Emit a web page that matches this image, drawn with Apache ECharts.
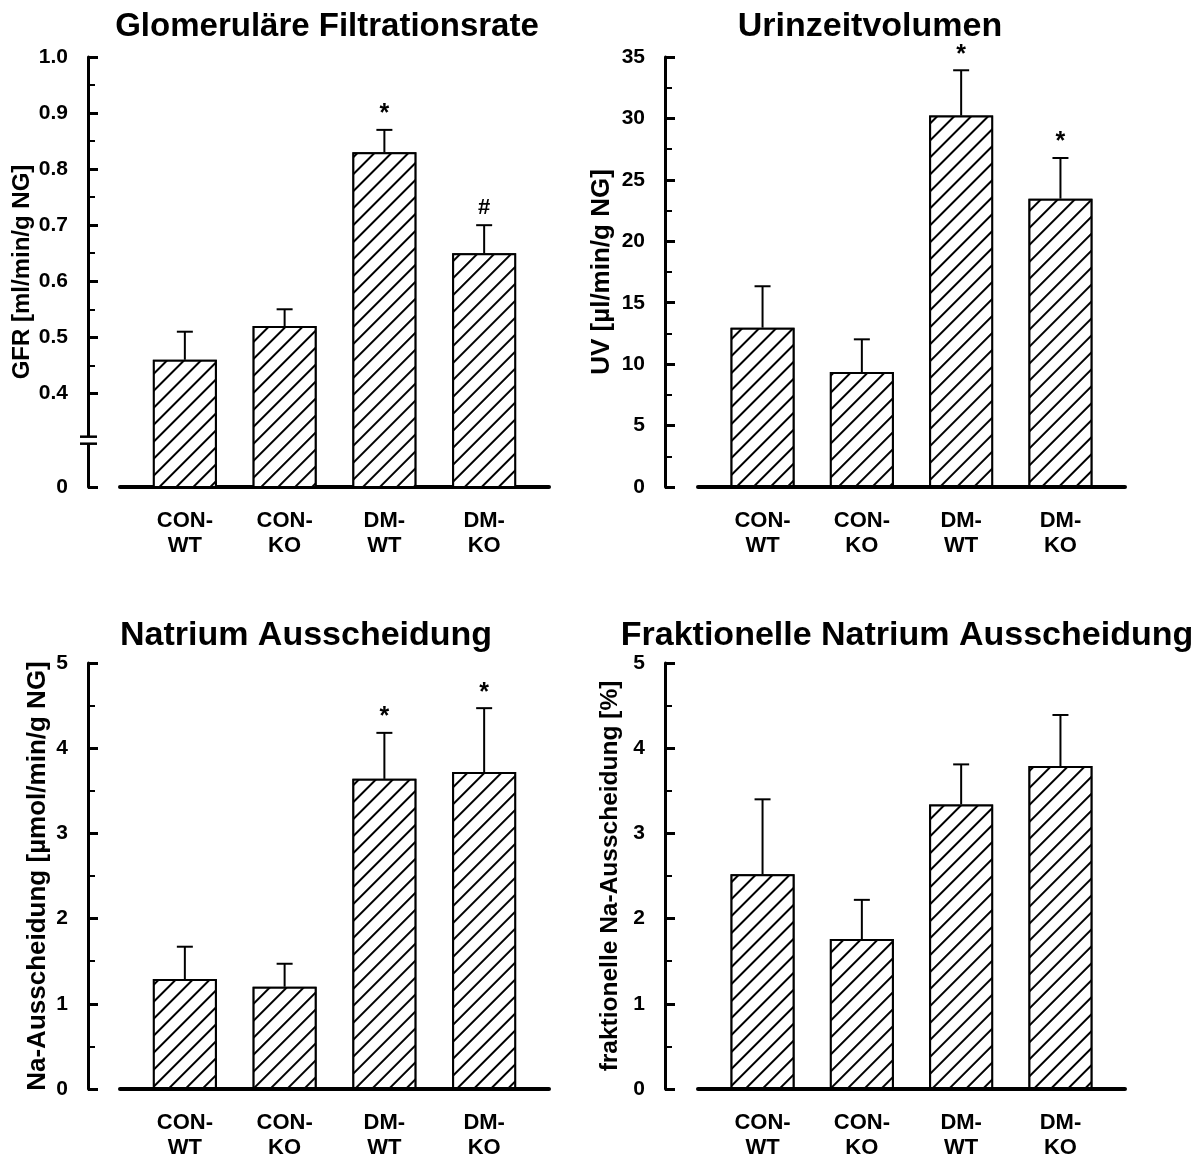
<!DOCTYPE html>
<html><head><meta charset="utf-8">
<script src="https://cdn.jsdelivr.net/npm/echarts@6/dist/echarts.min.js"></script>
<style>html,body{margin:0;padding:0;background:#fff}#c{width:1203px;height:1160px}</style>
</head><body><div id="c"></div>
<script>
// ---------- data ----------
const categories = ['CON-\nWT', 'CON-\nKO', 'DM-\nWT', 'DM-\nKO'];

const gfrTitle = 'Glomeruläre Filtrationsrate';
const gfrName = 'GFR [ml/min/g NG]';
const gfrMean = [0.46, 0.52, 0.83, 0.65];
const gfrErrTop = [0.51, 0.55, 0.87, 0.70];
const gfrMarks = ['', '', '*', '#'];
const gfrTicks = [0.4, 0.5, 0.6, 0.7, 0.8, 0.9, 1.0];
const gfrMinorTicks = [0.45, 0.55, 0.65, 0.75, 0.85, 0.95];
const gfrAxisBottom = 0.233;   // broken axis: bottom of axis is labelled "0"

const uvTitle = 'Urinzeitvolumen';
const uvName = 'UV [µl/min/g NG]';
const uvMean = [12.97, 9.36, 30.23, 23.47];
const uvErrTop = [16.34, 12.02, 33.92, 26.78];
const uvMarks = ['', '', '*', '*'];
const uvMax = 35, uvStep = 5;

const naTitle = 'Natrium Ausscheidung';
const naName = 'Na-Ausscheidung [µmol/min/g NG]';
const naMean = [1.29, 1.20, 3.64, 3.72];
const naErrTop = [1.67, 1.47, 4.18, 4.47];
const naMarks = ['', '', '*', '*'];
const naMax = 5, naStep = 1;

const fnaTitle = 'Fraktionelle Natrium Ausscheidung';
const fnaName = 'fraktionelle Na-Ausscheidung [%]';
const fnaMean = [2.52, 1.76, 3.34, 3.79];
const fnaErrTop = [3.40, 2.22, 3.81, 4.39];
const fnaMarks = ['', '', '', ''];
const fnaMax = 5, fnaStep = 1;

// ---------- layout / style ----------
const FONT = "'Liberation Sans', Arial, Helvetica, sans-serif";
const panels = [
  {title: gfrTitle, name: gfrName, mean: gfrMean, err: gfrErrTop, marks: gfrMarks,
   left: 120, top: 57, width: 429, height: 430, offset: 32, nameGap: 54, nameSize: 24,
   titleX: 327, titleY: 27, titleSize: 33},
  {title: uvTitle, name: uvName, mean: uvMean, err: uvErrTop, marks: uvMarks, max: uvMax, step: uvStep,
   left: 698, top: 57, width: 427, height: 430, offset: 33, nameGap: 50, nameSize: 26,
   titleX: 870, titleY: 27, titleSize: 34},
  {title: naTitle, name: naName, mean: naMean, err: naErrTop, marks: naMarks, max: naMax, step: naStep,
   left: 120, top: 663, width: 429, height: 429, offset: 32, nameGap: 37, nameSize: 26,
   titleX: 306, titleY: 636, titleSize: 34},
  {title: fnaTitle, name: fnaName, mean: fnaMean, err: fnaErrTop, marks: fnaMarks, max: fnaMax, step: fnaStep,
   left: 698, top: 663, width: 427, height: 429, offset: 33, nameGap: 42, nameSize: 24.5,
   titleX: 907, titleY: 636, titleSize: 34}
];

const hatch = {
  symbol: 'rect', symbolSize: 1,
  dashArrayX: [1, 0], dashArrayY: [1.2, 9.8],
  rotation: -Math.PI / 4,
  color: '#000', backgroundColor: '#fff'
};

const option = {
  backgroundColor: '#fff',
  animation: false,
  title: [], grid: [], xAxis: [], yAxis: [], series: []
};

panels.forEach((p, i) => {
  option.title.push({
    text: p.title, left: p.titleX, top: p.titleY,
    textAlign: 'center', textVerticalAlign: 'middle', padding: 0,
    textStyle: {fontFamily: FONT, fontWeight: 'bold', fontSize: p.titleSize, color: '#000'}
  });
  option.grid.push({left: p.left, top: p.top, width: p.width, height: p.height, containLabel: false});
  option.xAxis.push({
    type: 'value', gridIndex: i, min: -0.65, max: 3.65,
    splitLine: {show: false},
    axisLine: {show: true, onZero: false, lineStyle: {color: '#000', width: 4}},
    axisTick: {show: false},
    axisLabel: {
      customValues: [0, 1, 2, 3],
      formatter: v => categories[Math.round(v)],
      fontFamily: FONT, fontWeight: 'bold', fontSize: 22, lineHeight: 25,
      color: '#000', margin: 21
    }
  });
  const yBase = {
    type: 'value', gridIndex: i, position: 'left', offset: p.offset,
    splitLine: {show: false},
    name: p.name, nameLocation: 'middle', nameRotate: 90, nameGap: p.nameGap,
    nameTextStyle: {fontFamily: FONT, fontWeight: 'bold', fontSize: p.nameSize, color: '#000'},
    axisLine: {show: true, onZero: false, lineStyle: {color: '#000', width: 3}},
    axisTick: {show: true, inside: true, length: 10, lineStyle: {color: '#000', width: 3}},
    axisLabel: {fontFamily: FONT, fontWeight: 'bold', fontSize: 21, color: '#000', margin: 20}
  };
  let yIdx = option.yAxis.length;
  if (i === 0) {
    const allLabels = [gfrAxisBottom].concat(gfrTicks);
    yBase.min = gfrAxisBottom; yBase.max = 1.0;
    yBase.axisTick.customValues = allLabels;
    yBase.axisLabel.customValues = allLabels;
    yBase.axisLabel.formatter = v => (v < 0.3 ? '0' : v.toFixed(1));
    option.yAxis.push(yBase);
    option.yAxis.push({
      type: 'value', gridIndex: i, position: 'left', offset: p.offset,
      min: gfrAxisBottom, max: 1.0,
      splitLine: {show: false}, axisLine: {show: false, onZero: false}, axisLabel: {show: false},
      axisTick: {show: true, inside: true, length: 7, customValues: gfrMinorTicks,
                 lineStyle: {color: '#000', width: 2}}
    });
  } else {
    yBase.min = 0; yBase.max = p.max; yBase.interval = p.step;
    yBase.minorTick = {show: true, splitNumber: 2, length: 7, lineStyle: {color: '#000', width: 2}};
    option.yAxis.push(yBase);
  }
  option.series.push({
    type: 'bar', xAxisIndex: i, yAxisIndex: yIdx,
    barWidth: 64,
    data: p.mean.map((v, k) => [k, v]),
    itemStyle: {color: '#fff', borderColor: '#000', borderWidth: 2, decal: hatch},
    z: 2
  });
  const marks = p.marks;
  option.series.push({
    type: 'custom', xAxisIndex: i, yAxisIndex: yIdx, z: 3,
    data: p.mean.map((v, k) => [k, v, p.err[k]]),
    renderItem: (params, api) => {
      const x = api.value(0);
      const p0 = api.coord([x, api.value(1)]);
      const p1 = api.coord([x, api.value(2)]);
      const ch = [
        {type: 'line', shape: {x1: p0[0], y1: p0[1], x2: p1[0], y2: p1[1]}, style: {stroke: '#000', lineWidth: 2}},
        {type: 'line', shape: {x1: p1[0] - 8, y1: p1[1], x2: p1[0] + 8, y2: p1[1]}, style: {stroke: '#000', lineWidth: 2}}
      ];
      const m = marks[params.dataIndex];
      if (m) ch.push({type: 'text', style: {text: m, x: p1[0], y: p1[1] - (m === '*' ? 3 : 6), align: 'center',
        verticalAlign: 'bottom', font: 'bold ' + (m === '*' ? 25 : 22) + 'px ' + FONT, fill: '#000'}});
      return {type: 'group', children: ch};
    }
  });
});

const chart = echarts.init(document.getElementById('c'), null, {renderer: 'canvas'});
chart.setOption(option);

// axis-break marks on the GFR y axis (midway between "0" and 0.4)
const yb = chart.convertToPixel({yAxisIndex: 0}, gfrAxisBottom);
const y4 = chart.convertToPixel({yAxisIndex: 0}, gfrTicks[0]);
const ym = (yb + y4) / 2;
const ax = panels[0].left - panels[0].offset;
chart.setOption({
  graphic: [
    {type: 'rect', shape: {x: ax - 4, y: ym - 3.5, width: 8, height: 7}, style: {fill: '#fff'}, z: 100},
    {type: 'line', shape: {x1: ax - 8, y1: ym - 3.5, x2: ax + 9, y2: ym - 3.5}, style: {stroke: '#000', lineWidth: 2.5}, z: 101},
    {type: 'line', shape: {x1: ax - 8, y1: ym + 3.5, x2: ax + 9, y2: ym + 3.5}, style: {stroke: '#000', lineWidth: 2.5}, z: 101}
  ]
});
</script></body></html>
